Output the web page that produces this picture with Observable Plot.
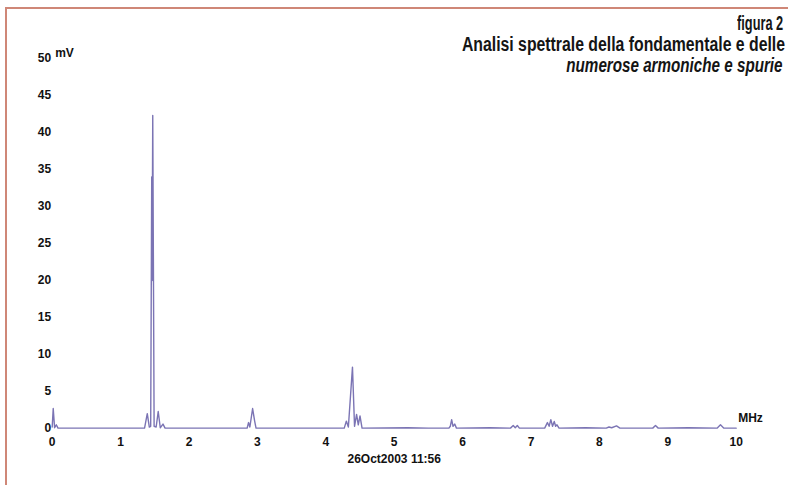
<!DOCTYPE html>
<html>
<head>
<meta charset="utf-8">
<script src="https://cdn.jsdelivr.net/npm/d3@7"></script>
<script src="https://cdn.jsdelivr.net/npm/@observablehq/plot@0.6"></script>
<style>
  html, body { margin: 0; padding: 0; background: #ffffff; }
  #wrap { position: relative; width: 788px; height: 485px; overflow: hidden; background: #fff; }
  #chart { position: absolute; left: 0; top: 0; }
  #frame { position: absolute; left: 5px; top: 7px; width: 800px; height: 500px;
           border-left: 2px solid #cf8777; border-top: 2px solid #cf8777; }
  .t { position: absolute; right: 5px; white-space: nowrap; font-family: 'Liberation Sans', Arial, sans-serif;
       font-size: 20px; font-weight: bold; color: #151515; line-height: 20px;
       transform-origin: 100% 50%; }
</style>
</head>
<body>
<div id="wrap">
  <div id="frame"></div>
  <div id="chart"></div>
  <div class="t" id="fig" style="top: 13px; transform: scaleX(0.64);">figura 2</div>
  <div class="t" id="t1" style="top: 34px; right: 3px; transform: scaleX(0.79);">Analisi spettrale della fondamentale e delle</div>
  <div class="t" id="t2" style="top: 55px; right: 5px; font-style: italic; transform: scaleX(0.76);">numerose armoniche e spurie</div>
</div>
<script>
// Spectrum trace: frequency (MHz) and amplitude (mV)
const freqMHz = [
  0.00, 0.015, 0.035, 0.06, 0.085, 0.50, 0.90,
  1.35, 1.39, 1.42, 1.44, 1.455, 1.46, 1.47, 1.49, 1.52, 1.55, 1.58, 1.62, 1.65,
  2.20, 2.85, 2.87, 2.89, 2.93, 2.96, 2.98,
  3.60, 4.27, 4.30, 4.33, 4.39, 4.42, 4.45, 4.475, 4.50, 4.53,
  5.20, 5.50, 5.80, 5.82, 5.84, 5.86, 5.885, 5.91,
  6.40, 6.70, 6.74, 6.77, 6.80, 6.83,
  7.20, 7.24, 7.265, 7.29, 7.315, 7.34, 7.36, 7.38, 7.41,
  7.80, 8.10, 8.14, 8.18, 8.25, 8.30,
  8.78, 8.82, 8.86, 9.30, 9.72, 9.77, 9.82, 10.00
];
const amplitudeMV = [
  0.2, 2.7, 0.1, 0.5, 0.05, 0.05, 0.05,
  0.05, 2.0, 0.2, 0.3, 34.0, 20.0, 42.3, 0.3, 0.2, 2.3, 0.1, 0.6, 0.05,
  0.05, 0.05, 0.8, 0.2, 2.7, 1.0, 0.05,
  0.05, 0.05, 1.0, 0.2, 8.3, 0.3, 1.9, 0.5, 1.7, 0.05,
  0.1, 0.05, 0.05, 0.3, 1.2, 0.3, 0.6, 0.05,
  0.1, 0.05, 0.4, 0.1, 0.4, 0.05,
  0.05, 0.8, 0.3, 1.2, 0.3, 0.95, 0.3, 0.5, 0.05,
  0.1, 0.05, 0.2, 0.1, 0.35, 0.05,
  0.05, 0.4, 0.05, 0.1, 0.05, 0.5, 0.05, 0.05
];
const xTicks = [0, 1, 2, 3, 4, 5, 6, 7, 8, 9, 10];
const yTicks = [0, 5, 10, 15, 20, 25, 30, 35, 40, 45, 50];
const yUnit = "mV";
const xUnit = "MHz";
const stamp = "26Oct2003 11:56";

const trace = freqMHz.map((f, i) => ({f, a: amplitudeMV[i]}));

const chart = Plot.plot({
  width: 788,
  height: 485,
  marginLeft: 51.7,
  marginRight: 52.3,
  marginTop: 58,
  marginBottom: 57,
  x: {domain: [0, 10]},
  y: {domain: [0, 50]},
  style: {
    fontFamily: "'Liberation Sans', Arial, sans-serif",
    fontSize: "12px",
    fontWeight: "bold",
    color: "#111",
    background: "transparent",
    overflow: "visible"
  },
  marks: [
    Plot.axisX({ticks: xTicks, tickSize: 0, tickPadding: 9, label: null, tickFormat: d => String(d)}),
    Plot.axisY({ticks: yTicks, tickSize: 0, tickPadding: 1, label: null, tickFormat: d => String(d)}),
    Plot.line(trace, {x: "f", y: "a", stroke: "#7b74b4", strokeWidth: 1.4}),
    Plot.text([yUnit], {frameAnchor: "top-left", dx: 3, dy: -10, textAnchor: "start", fill: "#111"}),
    Plot.text([xUnit], {frameAnchor: "bottom-right", dx: 2, dy: -7, textAnchor: "start", fill: "#111"}),
    Plot.text([stamp], {x: () => 5, frameAnchor: "bottom", dy: 34, fill: "#111"})
  ]
});
document.getElementById("chart").appendChild(chart);
</script>
</body>
</html>
